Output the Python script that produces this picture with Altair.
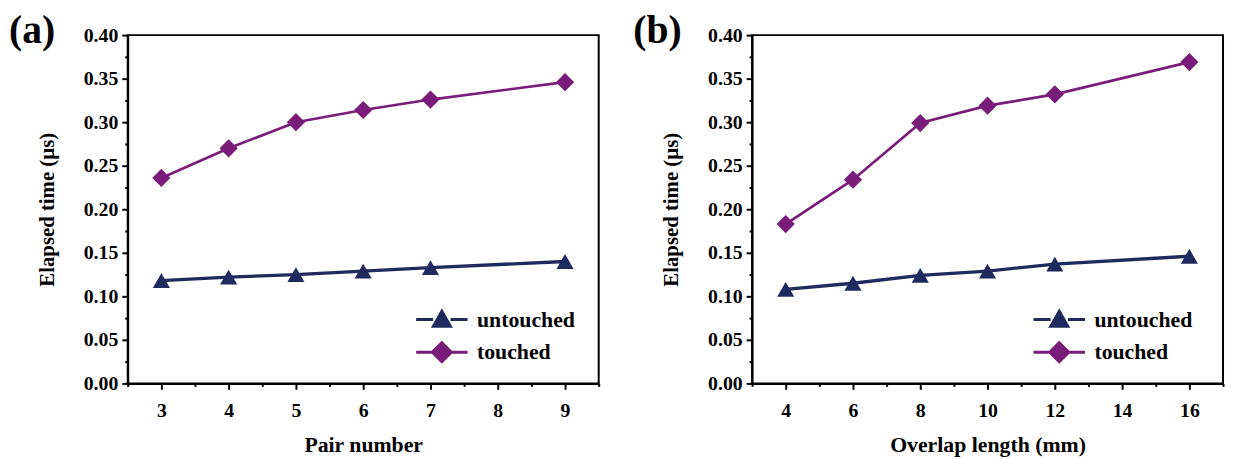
import altair as alt
import pandas as pd

# ---- data ----
series_names = ["untouched", "touched"]

pair_number = [3, 4, 5, 6, 7, 9]
a_untouched = [0.118, 0.122, 0.125, 0.129, 0.133, 0.140]
a_touched = [0.236, 0.270, 0.300, 0.314, 0.326, 0.346]

overlap_length = [4, 6, 8, 10, 12, 16]
b_untouched = [0.108, 0.115, 0.124, 0.129, 0.137, 0.146]
b_touched = [0.183, 0.234, 0.299, 0.319, 0.332, 0.369]

y_ticks = [round(i * 0.025, 3) for i in range(17)]
a_x_ticks = [2.5 + 0.5 * i for i in range(15)]
b_x_ticks = list(range(3, 18))

colors = ["#1f2b5e", "#7a1d7a"]
FONT = "Liberation Serif"

legend_paths = [
    "M-2,0H-0.68M0.68,0H2M0,-0.64L0.66,0.52L-0.66,0.52Z",
    "M-2,0H-0.72M0.72,0H2M0,-0.74L0.74,0L0,0.74L-0.74,0Z",
]


def long_df(xs, unt, tou):
    rows = []
    for x, v in zip(xs, unt):
        rows.append({"x": x, "v": v, "series": "untouched"})
    for x, v in zip(xs, tou):
        rows.append({"x": x, "v": v, "series": "touched"})
    return pd.DataFrame(rows)


def panel(xs, unt, tou, x_title, tag, x_domain, x_ticks, major_test, leg_x):
    df = long_df(xs, unt, tou)
    x_axis = alt.Axis(
        values=x_ticks,
        labelExpr=f"({major_test}) ? format(datum.value, 'd') : ''",
        tickSize={"condition": {"test": major_test, "value": 6}, "value": 3},
        tickWidth=2, tickColor="black", domainWidth=2, domainColor="black",
        labelFont=FONT, labelFontSize=20, labelFontWeight="bold", labelColor="black",
        labelPadding=11, labelOverlap=False, labelFlush=False,
        title=x_title, titleFont=FONT, titleFontSize=22, titleFontWeight="bold",
        titleColor="black", titlePadding=15, grid=False,
    )
    y_major = "round(datum.value * 40) % 2 == 0"
    y_axis = alt.Axis(
        values=y_ticks,
        labelExpr=f"({y_major}) ? format(datum.value, '.2f') : ''",
        tickSize={"condition": {"test": y_major, "value": 6}, "value": 3},
        tickWidth=2, tickColor="black", domainWidth=2, domainColor="black",
        labelFont=FONT, labelFontSize=20, labelFontWeight="bold", labelColor="black",
        labelPadding=4, labelOverlap=False, labelFlush=False,
        title="Elapsed time (µs)", titleFont=FONT, titleFontSize=21,
        titleFontWeight="bold", titleColor="black", titlePadding=26, grid=False,
    )
    x_enc = alt.X("x:Q", scale=alt.Scale(domain=x_domain, nice=False, zero=False), axis=x_axis)
    y_enc = alt.Y("v:Q", scale=alt.Scale(domain=[0, 0.4], nice=False), axis=y_axis)

    base = alt.Chart(df)
    lines = base.mark_line().encode(
        x=x_enc, y=y_enc,
        color=alt.Color("series:N", scale=alt.Scale(domain=series_names, range=colors), legend=None),
        strokeWidth=alt.StrokeWidth("series:N", scale=alt.Scale(domain=series_names, range=[3.4, 2.7]), legend=None),
        detail="series:N",
    )
    points = base.mark_point(filled=True, opacity=1).encode(
        x=x_enc, y=y_enc,
        color=alt.Color("series:N", scale=alt.Scale(domain=series_names, range=colors), legend=None),
        shape=alt.Shape("series:N", scale=alt.Scale(domain=series_names, range=["triangle-up", "diamond"]), legend=None),
        size=alt.Size("series:N", scale=alt.Scale(domain=series_names, range=[300, 340]), legend=None),
    )
    leg = alt.Legend(
        title=None, orient="none", legendX=leg_x, legendY=273,
        labelFont=FONT, labelFontSize=22, labelFontWeight="bold", labelColor="black",
        symbolSize=676, symbolStrokeWidth=3, symbolOpacity=1, labelOffset=21,
        rowPadding=3, padding=0,
    )
    legend_layer = base.mark_point(filled=True, size=676).encode(
        x=x_enc, y=y_enc,
        fill=alt.Fill("series:N", scale=alt.Scale(domain=series_names, range=colors), legend=leg, sort=series_names),
        stroke=alt.Stroke("series:N", scale=alt.Scale(domain=series_names, range=colors), legend=leg, sort=series_names),
        shape=alt.Shape("series:N", scale=alt.Scale(domain=series_names, range=legend_paths), legend=leg, sort=series_names),
        opacity=alt.value(0),
    )
    tag_layer = alt.Chart(pd.DataFrame({"t": [tag]})).mark_text(
        align="left", baseline="top", font=FONT, fontSize=40, fontWeight="bold", color="black"
    ).encode(text="t:N", x=alt.value(-120), y=alt.value(-24))

    return alt.layer(lines, points, legend_layer, tag_layer).resolve_scale(
        color="independent", fill="independent", stroke="independent", shape="independent"
    ).properties(width=476, height=352)


pa = panel(pair_number, a_untouched, a_touched, "Pair number", "(a)", [2.5, 9.5],
           a_x_ticks, "datum.value % 1 == 0", 303)
pb = panel(overlap_length, b_untouched, b_touched, "Overlap length (mm)", "(b)", [3, 17],
           b_x_ticks, "datum.value % 2 == 0", 296)

chart = alt.hconcat(pa, pb, spacing=32).properties(
    padding=0, background="white"
).configure_view(stroke="black", strokeWidth=2)

chart.save("out.html", embed_options={"renderer": "svg", "actions": False})
